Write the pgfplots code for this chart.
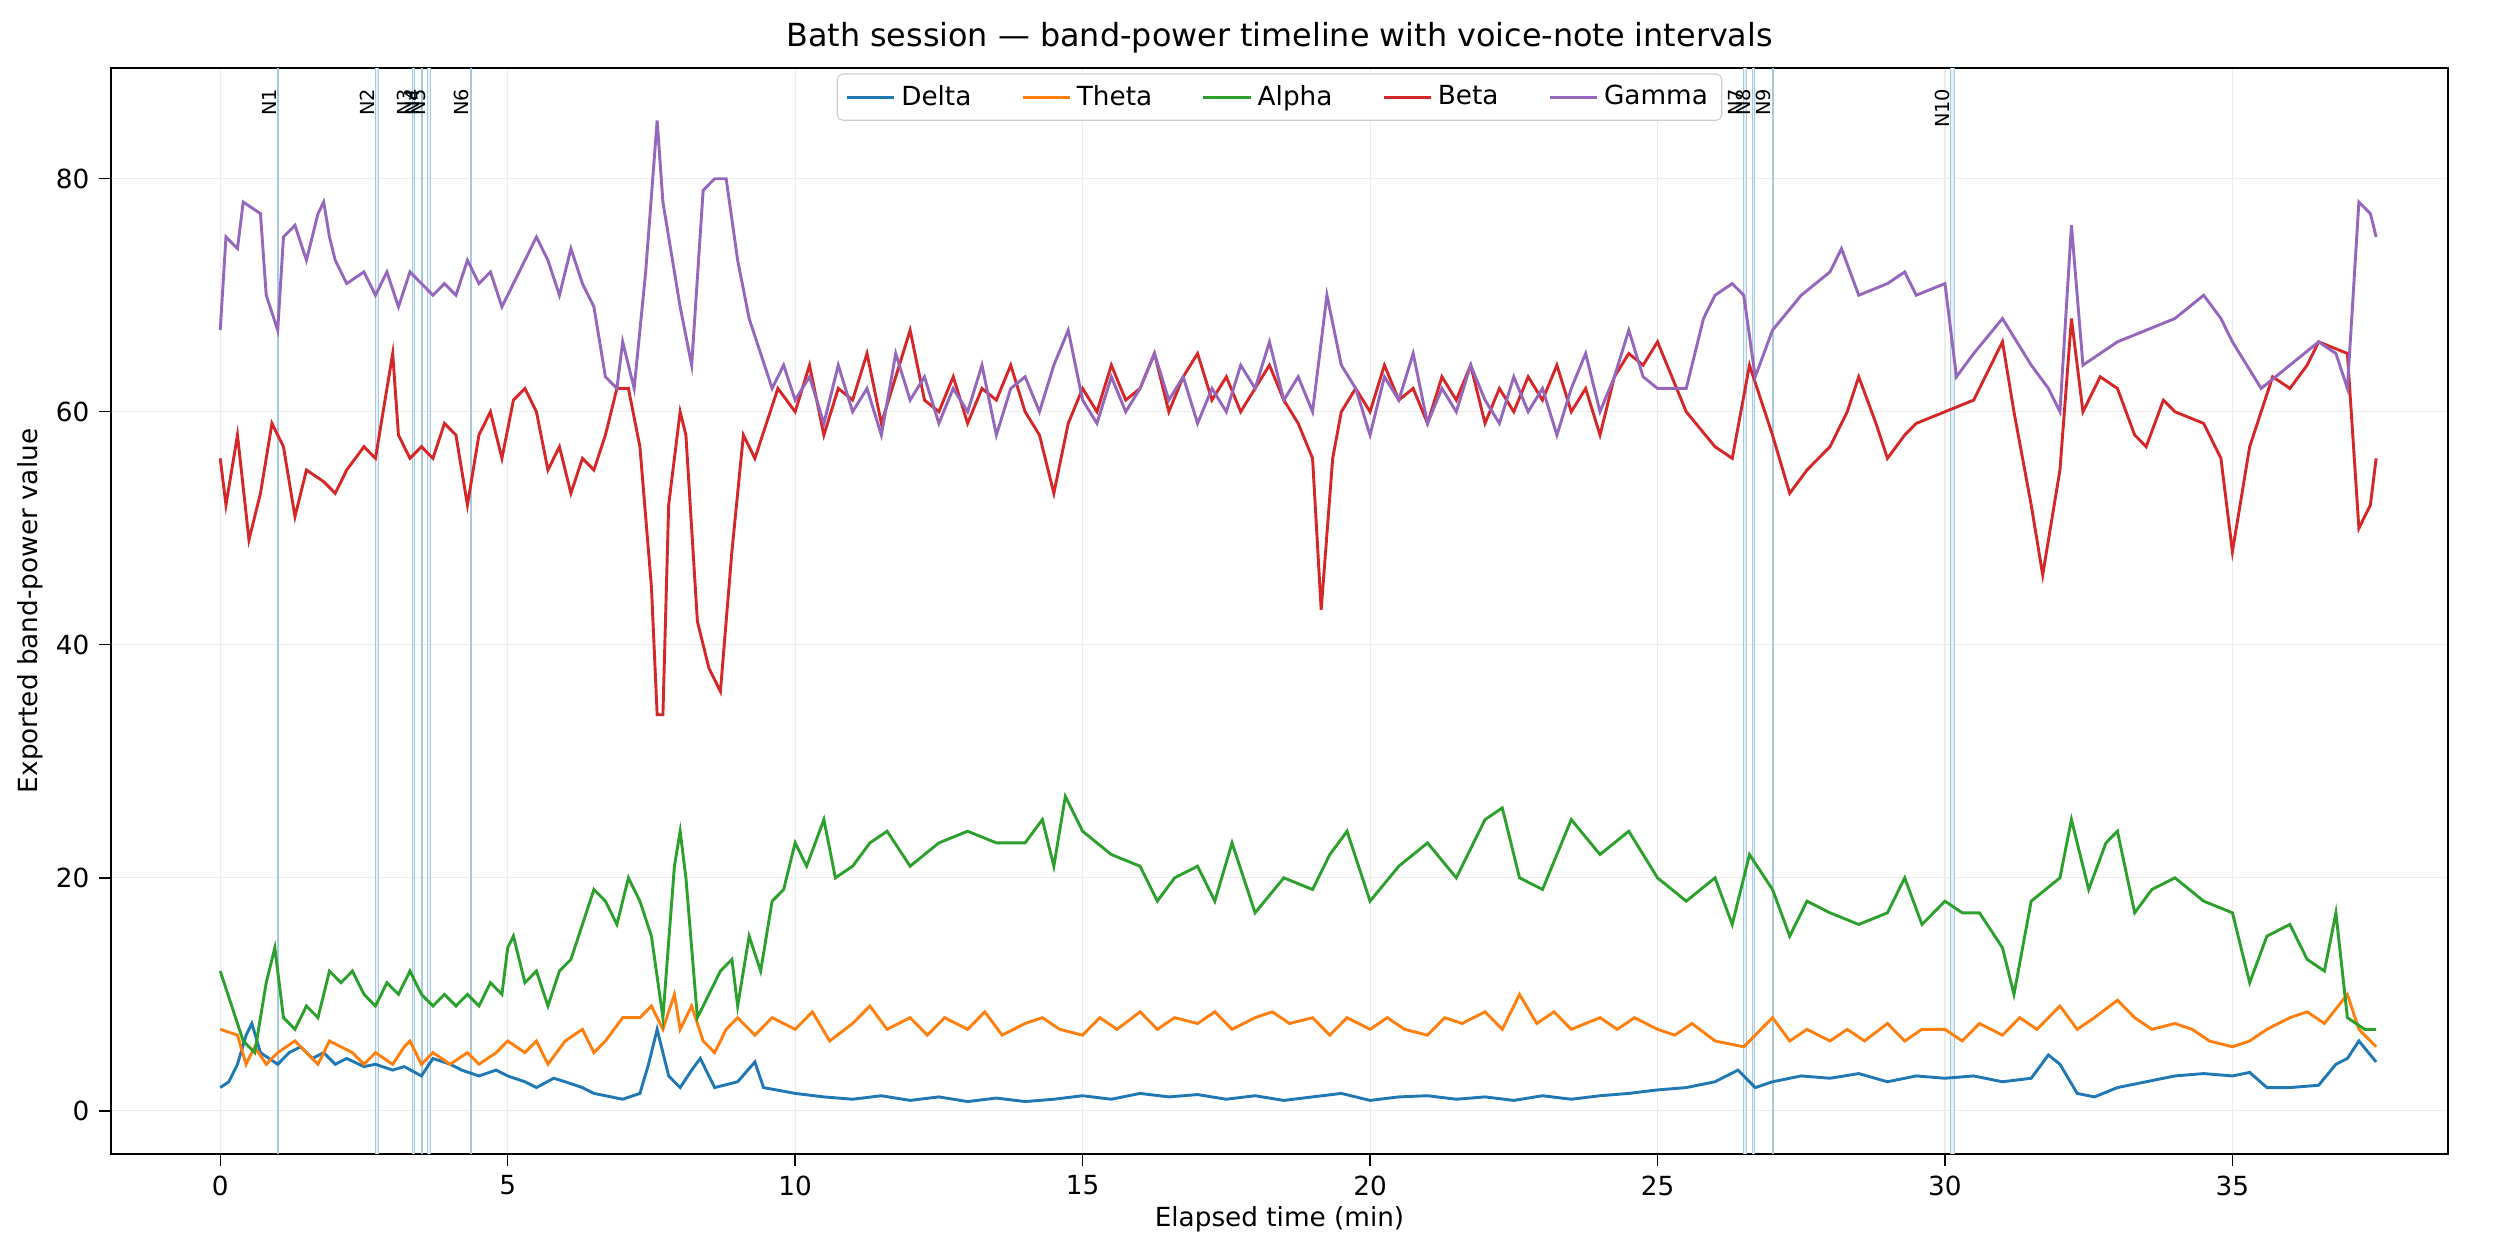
\documentclass[border=0pt]{standalone}
\usepackage{pgfplots}
\pgfplotsset{compat=1.18}
\usepackage{fontspec}
\setmainfont{DejaVu Sans}
\definecolor{c1}{HTML}{1F77B4}
\definecolor{c2}{HTML}{FF7F0E}
\definecolor{c3}{HTML}{2CA02C}
\definecolor{c4}{HTML}{D62728}
\definecolor{c5}{HTML}{9467BD}
\begin{document}
\begin{tikzpicture}
\useasboundingbox (-0.555in,-0.53in) rectangle (12.045in,5.77in);
\begin{axis}[
 scale only axis, width=11.685in, height=5.43in,
 xmin=-1.9, xmax=38.75, ymin=-3.7, ymax=89.5,
 xtick={0,5,...,35}, ytick={0,20,40,60,80},
 xtick pos=bottom, ytick pos=left,
 grid=major, grid style={gray!15, line width=0.4pt},
 tick align=outside, tick style={black, line width=0.5pt},
 /pgf/number format/assume math mode=true,
 ticklabel style={font=\fontsize{9.5}{11}\selectfont},
 xlabel={Elapsed time (min)}, ylabel={Exported band-power value},
 xlabel style={font=\fontsize{9.5}{11}\selectfont, yshift=3pt},
 ylabel style={font=\fontsize{9.5}{11}\selectfont, yshift=-2pt},
 title={Bath session — band-power timeline with voice-note intervals},
 title style={font=\fontsize{11.5}{13}\selectfont, yshift=-4pt},
 legend columns=5,
 legend style={at={(0.5,0.995)}, anchor=north, fill=white, font=\fontsize{9.5}{11}\selectfont, draw=gray!40, rounded corners=2pt, /tikz/every even column/.append style={column sep=16pt}},
 legend cell align=left,
 every axis plot/.append style={line width=1.05pt},
]
% voice note intervals
\foreach \xa/\xb in {1.0/1.02,2.7/2.75,3.35/3.38,3.5/3.52,3.6/3.66,4.35/4.37,26.5/26.55,26.65/26.68,27.0/27.02,30.1/30.16}{
 \edef\tmp{\noexpand\fill[c1!10] (axis cs:\xa,-3.7) rectangle (axis cs:\xb,89.5);
 \noexpand\draw[c1!40, line width=0.35pt] (axis cs:\xa,-3.7) -- (axis cs:\xa,89.5);
 \noexpand\draw[c1!40, line width=0.35pt] (axis cs:\xb,-3.7) -- (axis cs:\xb,89.5);}\tmp
}
\foreach \xa/\lab in {1.0/N1,2.7/N2,3.35/N3,3.5/N4,3.6/N5,4.35/N6,26.5/N7,26.65/N8,27.0/N9,30.1/N10}{
 \edef\tmp{\noexpand\node[rotate=90, anchor=east, font=\noexpand\fontsize{7}{8}\noexpand\selectfont, inner sep=1pt] at (axis cs:\xa-0.15,88) {\lab};}\tmp
}
\addplot[c1] coordinates {(0,2)(0.15,2.5)(0.3,4)(0.45,6.5)(0.55,7.5)(0.7,5)(0.85,4.5)(1,4)(1.2,5)(1.4,5.5)(1.6,4.5)(1.8,5)(2,4)(2.2,4.5)(2.5,3.8)(2.7,4)(3,3.5)(3.2,3.8)(3.5,3)(3.7,4.5)(4,4)(4.2,3.5)(4.5,3)(4.8,3.5)(5,3)(5.3,2.5)(5.5,2)(5.8,2.8)(6,2.5)(6.3,2)(6.5,1.5)(6.8,1.2)(7,1)(7.3,1.5)(7.45,4)(7.6,7)(7.8,3)(8,2)(8.2,3.5)(8.35,4.5)(8.6,2)(9,2.5)(9.3,4.2)(9.45,2)(10,1.5)(10.5,1.2)(11,1)(11.5,1.3)(12,0.9)(12.5,1.2)(13,0.8)(13.5,1.1)(14,0.8)(14.5,1)(15,1.3)(15.5,1)(16,1.5)(16.5,1.2)(17,1.4)(17.5,1)(18,1.3)(18.5,0.9)(19,1.2)(19.5,1.5)(20,0.9)(20.5,1.2)(21,1.3)(21.5,1)(22,1.2)(22.5,0.9)(23,1.3)(23.5,1)(24,1.3)(24.5,1.5)(25,1.8)(25.5,2)(26,2.5)(26.4,3.5)(26.7,2)(27,2.5)(27.5,3)(28,2.8)(28.5,3.2)(29,2.5)(29.5,3)(30,2.8)(30.5,3)(31,2.5)(31.5,2.8)(31.8,4.8)(32,4)(32.3,1.5)(32.6,1.2)(33,2)(33.5,2.5)(34,3)(34.5,3.2)(35,3)(35.3,3.3)(35.6,2)(36,2)(36.5,2.2)(36.8,4)(37,4.5)(37.2,6)(37.5,4.2)};
\addlegendentry{Delta}
\addplot[c2] coordinates {(0,7)(0.3,6.5)(0.45,4)(0.6,5.5)(0.8,4)(1,5)(1.3,6)(1.5,5)(1.7,4)(1.9,6)(2.1,5.5)(2.3,5)(2.5,4)(2.7,5)(3,4)(3.2,5.5)(3.3,6)(3.5,4)(3.7,5)(4,4)(4.3,5)(4.5,4)(4.8,5)(5,6)(5.3,5)(5.5,6)(5.7,4)(6,6)(6.3,7)(6.5,5)(6.7,6)(7,8)(7.3,8)(7.5,9)(7.7,7)(7.9,10)(8.0,7)(8.2,9)(8.4,6)(8.6,5)(8.8,7)(9,8)(9.3,6.5)(9.6,8)(10,7)(10.3,8.5)(10.6,6)(11,7.5)(11.3,9)(11.6,7)(12,8)(12.3,6.5)(12.6,8)(13,7)(13.3,8.5)(13.6,6.5)(14,7.5)(14.3,8)(14.6,7)(15,6.5)(15.3,8)(15.6,7)(16,8.5)(16.3,7)(16.6,8)(17,7.5)(17.3,8.5)(17.6,7)(18,8)(18.3,8.5)(18.6,7.5)(19,8)(19.3,6.5)(19.6,8)(20,7)(20.3,8)(20.6,7)(21,6.5)(21.3,8)(21.6,7.5)(22,8.5)(22.3,7)(22.6,10)(22.9,7.5)(23.2,8.5)(23.5,7)(24,8)(24.3,7)(24.6,8)(25,7)(25.3,6.5)(25.6,7.5)(26,6)(26.5,5.5)(26.8,7)(27,8)(27.3,6)(27.6,7)(28,6)(28.3,7)(28.6,6)(29,7.5)(29.3,6)(29.6,7)(30,7)(30.3,6)(30.6,7.5)(31,6.5)(31.3,8)(31.6,7)(32,9)(32.3,7)(32.6,8)(33,9.5)(33.3,8)(33.6,7)(34,7.5)(34.3,7)(34.6,6)(35,5.5)(35.3,6)(35.6,7)(36,8)(36.3,8.5)(36.6,7.5)(37,10)(37.2,7)(37.5,5.5)};
\addlegendentry{Theta}
\addplot[c3] coordinates {(0,12)(0.2,9)(0.4,6)(0.6,5)(0.8,11)(0.95,14)(1.1,8)(1.3,7)(1.5,9)(1.7,8)(1.9,12)(2.1,11)(2.3,12)(2.5,10)(2.7,9)(2.9,11)(3.1,10)(3.3,12)(3.5,10)(3.7,9)(3.9,10)(4.1,9)(4.3,10)(4.5,9)(4.7,11)(4.9,10)(5,14)(5.1,15)(5.3,11)(5.5,12)(5.7,9)(5.9,12)(6.1,13)(6.3,16)(6.5,19)(6.7,18)(6.9,16)(7.1,20)(7.3,18)(7.5,15)(7.7,8)(7.9,21)(8.0,24)(8.1,20)(8.3,8)(8.5,10)(8.7,12)(8.9,13)(9.0,9)(9.2,15)(9.4,12)(9.6,18)(9.8,19)(10,23)(10.2,21)(10.5,25)(10.7,20)(11,21)(11.3,23)(11.6,24)(12,21)(12.5,23)(13,24)(13.5,23)(14,23)(14.3,25)(14.5,21)(14.7,27)(15,24)(15.5,22)(16,21)(16.3,18)(16.6,20)(17,21)(17.3,18)(17.6,23)(18,17)(18.5,20)(19,19)(19.3,22)(19.6,24)(20,18)(20.5,21)(21,23)(21.5,20)(22,25)(22.3,26)(22.6,20)(23,19)(23.5,25)(24,22)(24.5,24)(25,20)(25.5,18)(26,20)(26.3,16)(26.6,22)(27,19)(27.3,15)(27.6,18)(28,17)(28.5,16)(29,17)(29.3,20)(29.6,16)(30,18)(30.3,17)(30.6,17)(31,14)(31.2,10)(31.5,18)(32,20)(32.2,25)(32.5,19)(32.8,23)(33,24)(33.3,17)(33.6,19)(34,20)(34.5,18)(35,17)(35.3,11)(35.6,15)(36,16)(36.3,13)(36.6,12)(36.8,17)(37,8)(37.3,7)(37.5,7)};
\addlegendentry{Alpha}
\addplot[c4] coordinates {(0,56)(0.1,52)(0.3,58)(0.5,49)(0.7,53)(0.9,59)(1.1,57)(1.3,51)(1.5,55)(1.8,54)(2.0,53)(2.2,55)(2.5,57)(2.7,56)(2.9,62)(3.0,65)(3.1,58)(3.3,56)(3.5,57)(3.7,56)(3.9,59)(4.1,58)(4.3,52)(4.5,58)(4.7,60)(4.9,56)(5.1,61)(5.3,62)(5.5,60)(5.7,55)(5.9,57)(6.1,53)(6.3,56)(6.5,55)(6.7,58)(6.9,62)(7.1,62)(7.3,57)(7.5,45)(7.6,34)(7.7,34)(7.8,52)(8.0,60)(8.1,58)(8.3,42)(8.5,38)(8.7,36)(8.9,48)(9.1,58)(9.3,56)(9.5,59)(9.7,62)
(10,60)(10.25,64)(10.5,58)(10.75,62)(11,61)(11.25,65)(11.5,59)(11.75,63)(12,67)(12.25,61)(12.5,60)(12.75,63)(13,59)(13.25,62)(13.5,61)(13.75,64)(14,60)(14.25,58)(14.5,53)(14.75,59)(15,62)(15.25,60)(15.5,64)(15.75,61)(16,62)(16.25,65)(16.5,60)(16.75,63)(17,65)(17.25,61)(17.5,63)(17.75,60)(18,62)(18.25,64)(18.5,61)(18.75,59)(19,56)(19.15,43)(19.35,56)(19.5,60)(19.75,62)(20,60)(20.25,64)(20.5,61)(20.75,62)(21,59)(21.25,63)(21.5,61)(21.75,64)(22,59)(22.25,62)(22.5,60)(22.75,63)(23,61)(23.25,64)(23.5,60)(23.75,62)(24,58)(24.25,63)(24.5,65)(24.75,64)(25,66)
(25.5,60)(26,57)(26.3,56)(26.6,64)(27,58)(27.3,53)(27.6,55)(28,57)(28.3,60)(28.5,63)(28.8,59)(29,56)(29.3,58)(29.5,59)(30,60)(30.5,61)(31,66)(31.2,60)(31.5,52)(31.7,46)(32,55)(32.2,68)(32.4,60)(32.7,63)(33,62)(33.3,58)(33.5,57)(33.8,61)(34,60)(34.5,59)(34.8,56)(35,48)(35.3,57)(35.7,63)(36,62)(36.3,64)(36.5,66)(37,65)(37.2,50)(37.4,52)(37.5,56)};
\addlegendentry{Beta}
\addplot[c5] coordinates {(0,67)(0.1,75)(0.3,74)(0.4,78)(0.7,77)(0.8,70)(1.0,67)(1.1,75)(1.3,76)(1.5,73)(1.7,77)(1.8,78)(1.9,75)(2.0,73)(2.2,71)(2.5,72)(2.7,70)(2.9,72)(3.1,69)(3.3,72)(3.5,71)(3.7,70)(3.9,71)(4.1,70)(4.3,73)(4.5,71)(4.7,72)(4.9,69)(5.1,71)(5.3,73)(5.5,75)(5.7,73)(5.9,70)(6.1,74)(6.3,71)(6.5,69)(6.7,63)(6.9,62)(7.0,66)(7.2,62)(7.4,72)(7.6,85)(7.7,78)(7.8,75)(8.0,69)(8.2,64)(8.4,79)(8.6,80)(8.8,80)(9.0,73)(9.2,68)(9.4,65)(9.6,62)(9.8,64)
(10,61)(10.25,63)(10.5,59)(10.75,64)(11,60)(11.25,62)(11.5,58)(11.75,65)(12,61)(12.25,63)(12.5,59)(12.75,62)(13,60)(13.25,64)(13.5,58)(13.75,62)(14,63)(14.25,60)(14.5,64)(14.75,67)(15,61)(15.25,59)(15.5,63)(15.75,60)(16,62)(16.25,65)(16.5,61)(16.75,63)(17,59)(17.25,62)(17.5,60)(17.75,64)(18,62)(18.25,66)(18.5,61)(18.75,63)(19,60)(19.25,70)(19.5,64)(19.75,62)(20,58)(20.25,63)(20.5,61)(20.75,65)(21,59)(21.25,62)(21.5,60)(21.75,64)(22,61)(22.25,59)(22.5,63)(22.75,60)(23,62)(23.25,58)(23.5,62)(23.75,65)(24,60)(24.25,63)(24.5,67)(24.75,63)(25,62)
(25.5,62)(25.8,68)(26,70)(26.3,71)(26.5,70)(26.7,63)(27,67)(27.5,70)(28,72)(28.2,74)(28.5,70)(29,71)(29.3,72)(29.5,70)(30,71)(30.2,63)(30.5,65)(31,68)(31.5,64)(31.8,62)(32,60)(32.2,76)(32.4,64)(32.7,65)(33,66)(33.5,67)(34,68)(34.5,70)(34.8,68)(35,66)(35.5,62)(36,64)(36.5,66)(36.8,65)(37,62)(37.2,78)(37.4,77)(37.5,75)};
\addlegendentry{Gamma}
\end{axis}
\end{tikzpicture}
\end{document}
